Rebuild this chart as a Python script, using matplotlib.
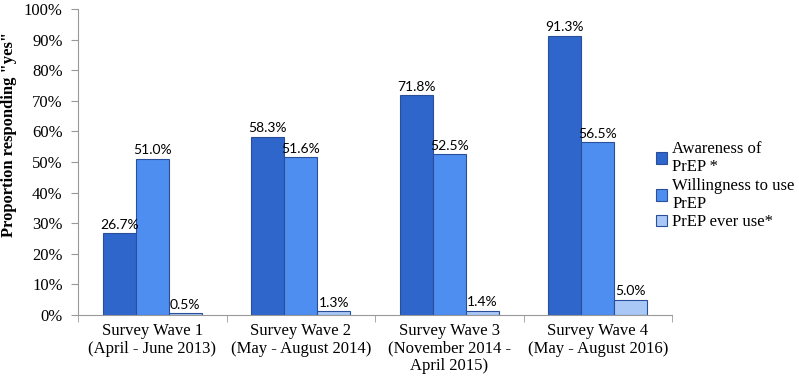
import matplotlib.pyplot as plt
import numpy as np

categories = [
    "Survey Wave 1\n(April - June 2013)",
    "Survey Wave 2\n(May - August 2014)",
    "Survey Wave 3\n(November 2014 -\nApril 2015)",
    "Survey Wave 4\n(May - August 2016)",
]
awareness = [26.7, 58.3, 71.8, 91.3]
willingness = [51.0, 51.6, 52.5, 56.5]
ever_use = [0.5, 1.3, 1.4, 5.0]

series = [
    ("Awareness of\nPrEP *", awareness, "#2F66CC"),
    ("Willingness to use\nPrEP", willingness, "#4D8EF0"),
    ("PrEP ever use*", ever_use, "#A9C8F5"),
]

serif = ["Liberation Serif", "DejaVu Serif"]
fig = plt.figure(figsize=(7.99, 3.84), dpi=100)
ax = fig.add_axes([78 / 799, 1 - 315 / 384, 594 / 799, 306 / 384])

x = np.arange(len(categories))
width = 0.222
for i, (label, vals, color) in enumerate(series):
    pos = x + (i - 1) * width
    bars = ax.bar(pos, vals, width, color=color, edgecolor="#2A4F9A",
                  linewidth=0.8, label=label)
    for b, v in zip(bars, vals):
        ax.text(b.get_x() + b.get_width() / 2, v + 0.8, f"{v:.1f}%",
                ha="center", va="bottom", fontsize=10, family="Lato")

ax.set_xlim(-0.5, len(categories) - 0.5)
ax.set_ylim(0, 100)
ax.set_yticks(range(0, 101, 10))
ax.set_yticklabels([f"{v}%" for v in range(0, 101, 10)], family=serif, fontsize=12)
ax.set_xticks(x)
ax.set_xticklabels(categories, family=serif, fontsize=12, linespacing=1.1)
ax.tick_params(axis="x", length=0, pad=6)
ax.set_xticks(np.arange(-0.5, len(categories)), minor=True)
ax.tick_params(axis="x", which="minor", length=5, color="#999999", direction="out")
ax.tick_params(axis="y", length=5, color="#999999", direction="out", pad=6)
fig.text(9 / 799, 1 - 134 / 384, 'Proportion responding "yes"', family=serif,
         fontweight="bold", fontsize=12, rotation=90, ha="center", va="center")

for s in ["top", "right"]:
    ax.spines[s].set_visible(False)
for s in ["left", "bottom"]:
    ax.spines[s].set_color("#999999")

leg = fig.legend(loc="upper left", bbox_to_anchor=(649 / 799, 1 - 134 / 384),
                 frameon=False, prop={"family": serif, "size": 12},
                 handlelength=0.7, handleheight=0.7, handletextpad=0.3,
                 labelspacing=0.15, borderaxespad=0)

fig.savefig("out.png", dpi=100)
